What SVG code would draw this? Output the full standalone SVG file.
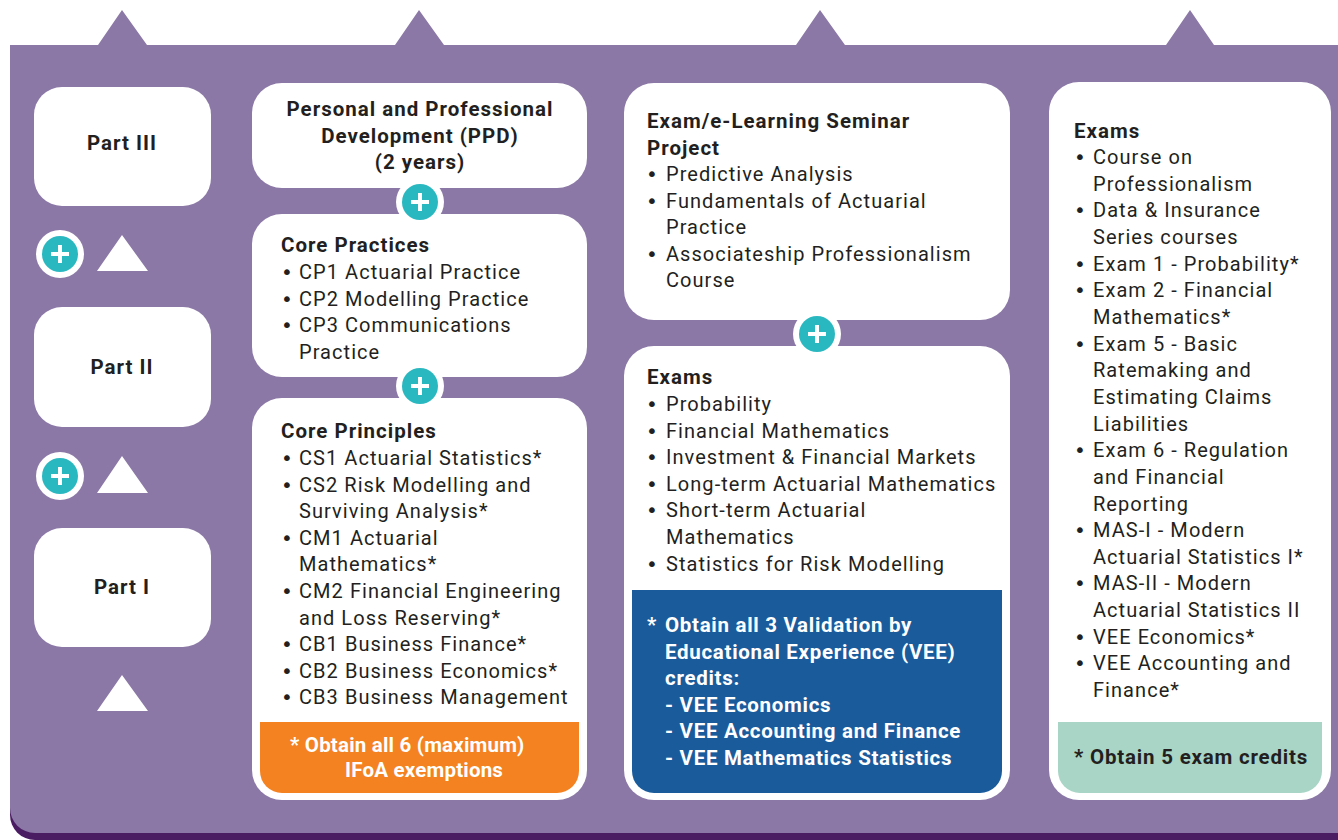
<svg xmlns="http://www.w3.org/2000/svg" width="1338" height="840" viewBox="0 0 1338 840">
<style>
.t{font-family:Roboto,"Liberation Sans",sans-serif;font-size:20px;fill:#231f20;letter-spacing:1.05px}
.d{font-family:"DejaVu Sans",sans-serif;font-size:20px;fill:#231f20}
.b{font-family:Roboto,"Liberation Sans",sans-serif;font-size:20.5px;font-weight:bold;fill:#231f20;letter-spacing:1px}
.o{letter-spacing:0.2px}
.bl{letter-spacing:0.7px}
.g{letter-spacing:0.8px}
.w{fill:#ffffff}
.box{fill:#ffffff}
.c{text-anchor:middle}
</style>
<defs>
<g id="plus">
<circle r="24" fill="#ffffff"/>
<circle r="18" fill="#2ab8c0"/>
<path d="M-9,0H9M0,-9V9" stroke="#ffffff" stroke-width="4"/>
</g>
</defs>
<rect width="1338" height="840" fill="#ffffff"/>
<g id="panel">
<path d="M10,60 H1338 V840 H35 A25,25 0 0 1 10,815 Z" fill="#4a1c62"/>
<path d="M10,45 H1338 V833 H35 A25,25 0 0 1 10,808 Z" fill="#8b78a6"/>
<path d="M98,45 L122,10 L147,45 Z M395,45 L419,10 L444,45 Z M796,45 L820,10 L845,45 Z M1166,45 L1190,10 L1214,45 Z" fill="#8b78a6"/>
</g>
<g id="levels">
<g id="part3"><rect class="box" x="34" y="87" width="177" height="119" rx="28"/><text class="b c" x="122" y="150">Part III</text></g>
<g id="part2"><rect class="box" x="34" y="307" width="177" height="120" rx="28"/><text class="b c" x="122" y="374">Part II</text></g>
<g id="part1"><rect class="box" x="34" y="528" width="177" height="119" rx="28"/><text class="b c" x="122" y="594">Part I</text></g>
<use href="#plus" x="60" y="254"/>
<use href="#plus" x="60" y="476"/>
<path d="M97,271 L122,235 L148,271 Z M97,493 L122,456 L148,493 Z M97,711 L122,675 L148,711 Z" fill="#ffffff"/>
</g>
<g id="ppd">
<rect class="box" x="252" y="83" width="335" height="105" rx="30"/>
<text class="b c" x="420" y="116">Personal and Professional</text>
<text class="b c" x="420" y="143">Development (PPD)</text>
<text class="b c" x="420" y="169">(2 years)</text>
</g>
<g id="core-practices">
<rect class="box" x="252" y="214" width="335" height="163" rx="30"/>
<text class="b" x="281" y="252">Core Practices</text>
<text class="d" x="281" y="279">•</text><text class="t" x="299" y="279">CP1 Actuarial Practice</text>
<text class="d" x="281" y="305.6">•</text><text class="t" x="299" y="305.6">CP2 Modelling Practice</text>
<text class="d" x="281" y="332.2">•</text><text class="t" x="299" y="332.2">CP3 Communications</text>
<text class="t" x="299" y="358.8">Practice</text>
</g>
<g id="core-principles">
<rect class="box" x="252" y="398" width="335" height="402" rx="30"/>
<text class="b" x="281" y="438">Core Principles</text>
<text class="d" x="281" y="465">•</text><text class="t" x="299" y="465">CS1 Actuarial Statistics*</text>
<text class="d" x="281" y="491.6">•</text><text class="t" x="299" y="491.6">CS2 Risk Modelling and</text>
<text class="t" x="299" y="518.2">Surviving Analysis*</text>
<text class="d" x="281" y="544.8">•</text><text class="t" x="299" y="544.8">CM1 Actuarial</text>
<text class="t" x="299" y="571.4">Mathematics*</text>
<text class="d" x="281" y="598">•</text><text class="t" x="299" y="598">CM2 Financial Engineering</text>
<text class="t" x="299" y="624.6">and Loss Reserving*</text>
<text class="d" x="281" y="651.2">•</text><text class="t" x="299" y="651.2">CB1 Business Finance*</text>
<text class="d" x="281" y="677.8">•</text><text class="t" x="299" y="677.8">CB2 Business Economics*</text>
<text class="d" x="281" y="704.4">•</text><text class="t" x="299" y="704.4">CB3 Business Management</text>
<path d="M260,722 H579 V771 A22,22 0 0 1 557,793 H282 A22,22 0 0 1 260,771 Z" fill="#f58220"/>
<text class="b w o" x="290" y="752">* Obtain all 6 (maximum)</text>
<text class="b w o" x="345" y="777">IFoA exemptions</text>
</g>
<g id="seminar">
<rect class="box" x="624" y="83" width="386" height="237" rx="30"/>
<text class="b" x="647" y="128">Exam/e-Learning Seminar</text>
<text class="b" x="647" y="155">Project</text>
<text class="d" x="646" y="181">•</text><text class="t" x="666" y="181">Predictive Analysis</text>
<text class="d" x="646" y="207.6">•</text><text class="t" x="666" y="207.6">Fundamentals of Actuarial</text>
<text class="t" x="666" y="234.2">Practice</text>
<text class="d" x="646" y="260.8">•</text><text class="t" x="666" y="260.8">Associateship Professionalism</text>
<text class="t" x="666" y="287.4">Course</text>
</g>
<g id="soa-exams">
<rect class="box" x="624" y="346" width="386" height="454" rx="30"/>
<text class="b" x="647" y="384">Exams</text>
<text class="d" x="646" y="411">•</text><text class="t" x="666" y="411">Probability</text>
<text class="d" x="646" y="437.6">•</text><text class="t" x="666" y="437.6">Financial Mathematics</text>
<text class="d" x="646" y="464.2">•</text><text class="t" x="666" y="464.2">Investment &amp; Financial Markets</text>
<text class="d" x="646" y="490.8">•</text><text class="t" x="666" y="490.8">Long-term Actuarial Mathematics</text>
<text class="d" x="646" y="517.4">•</text><text class="t" x="666" y="517.4">Short-term Actuarial</text>
<text class="t" x="666" y="544">Mathematics</text>
<text class="d" x="646" y="570.6">•</text><text class="t" x="666" y="570.6">Statistics for Risk Modelling</text>
<path d="M632,590 H1002 V771 A22,22 0 0 1 980,793 H654 A22,22 0 0 1 632,771 Z" fill="#1a5b9c"/>
<text class="b w bl" x="647" y="632">*</text>
<text class="b w bl" x="665" y="632">Obtain all 3 Validation by</text>
<text class="b w bl" x="665" y="658.5">Educational Experience (VEE)</text>
<text class="b w bl" x="665" y="685">credits:</text>
<text class="b w bl" x="665" y="711.5">- VEE Economics</text>
<text class="b w bl" x="665" y="738">- VEE Accounting and Finance</text>
<text class="b w bl" x="665" y="764.5">- VEE Mathematics Statistics</text>
</g>
<g id="cas-exams">
<rect class="box" x="1049" y="82" width="282" height="718" rx="30"/>
<text class="b" x="1074" y="138">Exams</text>
<text class="d" x="1074" y="164">•</text><text class="t" x="1093" y="164">Course on</text>
<text class="t" x="1093" y="190.6">Professionalism</text>
<text class="d" x="1074" y="217.3">•</text><text class="t" x="1093" y="217.3">Data &amp; Insurance</text>
<text class="t" x="1093" y="244">Series courses</text>
<text class="d" x="1074" y="270.6">•</text><text class="t" x="1093" y="270.6">Exam 1 - Probability*</text>
<text class="d" x="1074" y="297.3">•</text><text class="t" x="1093" y="297.3">Exam 2 - Financial</text>
<text class="t" x="1093" y="324">Mathematics*</text>
<text class="d" x="1074" y="350.6">•</text><text class="t" x="1093" y="350.6">Exam 5 - Basic</text>
<text class="t" x="1093" y="377.2">Ratemaking and</text>
<text class="t" x="1093" y="403.9">Estimating Claims</text>
<text class="t" x="1093" y="430.5">Liabilities</text>
<text class="d" x="1074" y="457.2">•</text><text class="t" x="1093" y="457.2">Exam 6 - Regulation</text>
<text class="t" x="1093" y="483.8">and Financial</text>
<text class="t" x="1093" y="510.5">Reporting</text>
<text class="d" x="1074" y="537.1">•</text><text class="t" x="1093" y="537.1">MAS-I - Modern</text>
<text class="t" x="1093" y="563.8">Actuarial Statistics I*</text>
<text class="d" x="1074" y="590.4">•</text><text class="t" x="1093" y="590.4">MAS-II - Modern</text>
<text class="t" x="1093" y="617">Actuarial Statistics II</text>
<text class="d" x="1074" y="643.7">•</text><text class="t" x="1093" y="643.7">VEE Economics*</text>
<text class="d" x="1074" y="670.3">•</text><text class="t" x="1093" y="670.3">VEE Accounting and</text>
<text class="t" x="1093" y="697">Finance*</text>
<path d="M1058,722 H1322 V771 A22,22 0 0 1 1300,793 H1080 A22,22 0 0 1 1058,771 Z" fill="#a8d5c6"/>
<text class="b g" x="1074" y="764">* Obtain 5 exam credits</text>
</g>
<g id="connectors">
<use href="#plus" x="420" y="202"/>
<use href="#plus" x="420" y="386"/>
<use href="#plus" x="817" y="334"/>
</g>
</svg>
